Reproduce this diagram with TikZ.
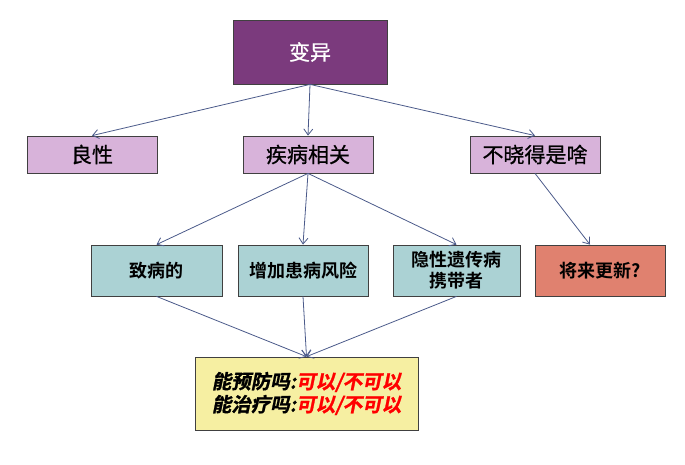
\documentclass[tikz,border=0pt]{standalone}
\usepackage{fontspec}
\setmainfont{Liberation Sans}
\newfontfamily\cjk[FakeBold=0.8]{Noto Sans CJK SC}
\newfontfamily\cjkb{Noto Sans CJK SC Bold}
\newfontfamily\cjkit[FakeSlant=0.2,FakeBold=1.2]{Noto Sans CJK SC Bold}
\usetikzlibrary{arrows.meta}
\definecolor{topc}{HTML}{7B3A7D}
\definecolor{midc}{HTML}{D8B3DA}
\definecolor{lowc}{HTML}{ABD2D4}
\definecolor{redc}{HTML}{E0816F}
\definecolor{yelc}{HTML}{F6EFA2}
\definecolor{arrc}{HTML}{4B5A8A}
\definecolor{bordc}{HTML}{404040}
\begin{document}
\begin{tikzpicture}[x=1pt,y=-1pt,
  box/.style={draw=bordc,line width=0.8pt,inner sep=0pt,align=center},
  lvtwo/.style={box,fill=midc,minimum width=130pt,minimum height=37pt,font=\cjk\fontsize{21}{25}\selectfont},
  lvthree/.style={box,fill=lowc,minimum height=51pt,font=\cjkb\fontsize{18}{21}\selectfont},
  conn/.style={draw=arrc,line width=0.8pt,-{Straight Barb[length=6pt,width=9pt]}}]
\useasboundingbox (0,0) rectangle (685,464);
\node[box,fill=topc,minimum width=154pt,minimum height=64pt,text=white,font=\cjk\fontsize{21}{25}\selectfont] (top) at (310,52) {变异};
\node[lvtwo] (a) at (92,154.5) {良性};
\node[lvtwo] (b) at (308,154.5) {疾病相关};
\node[lvtwo] (c) at (535,154.5) {不晓得是啥};
\node[lvthree,minimum width=131pt] (d) at (156.5,270.5) {致病的};
\node[lvthree,minimum width=130pt] (e) at (303,270.5) {增加患病风险};
\node[lvthree,minimum width=127pt] (f) at (456.5,270.5) {隐性遗传病\\携带者};
\node[lvthree,fill=redc,minimum width=130pt] (g) at (600,270.5) {将来更新?};
\node[box,fill=yelc,minimum width=223pt,minimum height=73pt,align=left,font=\cjkit\fontsize{19.5}{23}\selectfont] (h) at (306.5,393.5) {能预防吗:\textcolor{red}{可以/不可以}\\能治疗吗:\textcolor{red}{可以/不可以}};
\draw[conn] (top.south) -- (a.north);
\draw[conn] (top.south) -- (b.north);
\draw[conn] (top.south) -- (c.north);
\draw[conn] (b.south) -- (d.north);
\draw[conn] (b.south) -- (e.north);
\draw[conn] (b.south) -- (f.north);
\draw[conn] (c.south) -- ([xshift=-10pt]g.north);
\draw[conn] (d.south) -- (h.north);
\draw[conn] (e.south) -- (h.north);
\draw[conn] (f.south) -- (h.north);
\end{tikzpicture}
\end{document}
